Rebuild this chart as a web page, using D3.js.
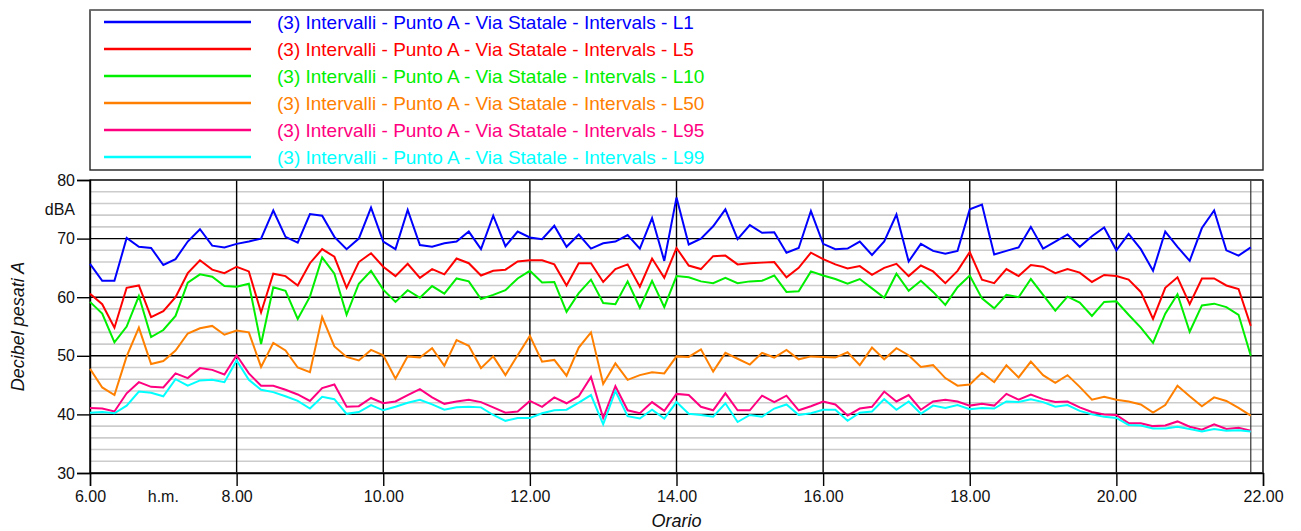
<!DOCTYPE html>
<html>
<head>
<meta charset="utf-8">
<script src="https://cdn.jsdelivr.net/npm/d3@7"></script>
<style>
  html, body { margin: 0; padding: 0; background: #fff; }
  svg { display: block; font-family: "Liberation Sans", Arial, sans-serif; }
</style>
</head>
<body>
<svg id="chart" width="1301" height="531"></svg>
<script>
// ---- Data ----
const seriesNames = [
  "(3) Intervalli - Punto A - Via Statale - Intervals - L1",
  "(3) Intervalli - Punto A - Via Statale - Intervals - L5",
  "(3) Intervalli - Punto A - Via Statale - Intervals - L10",
  "(3) Intervalli - Punto A - Via Statale - Intervals - L50",
  "(3) Intervalli - Punto A - Via Statale - Intervals - L95",
  "(3) Intervalli - Punto A - Via Statale - Intervals - L99"
];
const seriesColors = ["#0000ff", "#ff0000", "#00ee00", "#ff8000", "#ff0080", "#00ffff"];

// 10-minute intervals starting at 6.00
const intervalMinutes = 10;

const L1 = [65.7, 62.8, 62.8, 70.1, 68.6, 68.4, 65.5, 66.5, 69.5, 71.6, 68.8, 68.5, 69.1, 69.5, 70.0, 74.8, 70.3, 69.3, 74.2, 73.9, 70.3, 68.2, 70.0, 75.3, 69.5, 68.2,
  74.9, 68.9, 68.6, 69.2, 69.5, 71.2, 68.2, 73.9, 68.7, 71.2, 70.2, 69.9, 72.2, 68.6, 70.7, 68.3, 69.2, 69.5,
  70.6, 68.3, 73.5, 66.2, 77.0, 69.0, 70.0, 72.1, 75.0, 69.9, 72.3, 71.0, 71.1, 67.6, 68.4, 74.7, 69.1, 68.2,
  68.3, 69.5, 67.2, 69.5, 74.1, 66.1, 69.1, 67.9, 67.4, 67.9, 75.0, 75.8, 67.3, 67.9, 68.5, 72.0, 68.3, 69.5, 70.7,
  68.6, 70.4, 71.9, 68.0, 70.8, 68.2, 64.5, 71.2, 68.6, 66.2, 71.8, 74.8, 68.0, 67.1, 68.5];

const L5 = [60.6, 58.8, 54.8, 61.6, 62.0, 56.6, 57.6, 60.0, 64.1, 66.3, 64.7, 64.1, 65.2, 64.4, 57.4, 64.0, 63.6, 62.0, 65.8, 68.2, 66.9, 61.6, 66.0, 67.5, 65.2, 63.6,
  65.7, 63.3, 64.8, 63.9, 66.6, 65.8, 63.7, 64.5, 64.7, 66.1, 66.3, 66.3, 65.6, 62.0, 65.8, 65.8, 62.6, 64.8,
  65.6, 61.8, 66.6, 63.3, 68.4, 65.4, 64.8, 67.0, 67.1, 65.6, 65.8, 65.9, 66.0, 63.4, 65.0, 67.6, 66.5, 65.6,
  64.9, 65.3, 63.8, 65.0, 65.7, 63.6, 65.4, 64.4, 62.4, 64.5, 67.7, 63.0, 62.4, 64.8, 63.6, 65.5, 65.2, 64.1, 64.8,
  64.2, 62.6, 63.8, 63.6, 63.0, 60.9, 56.3, 61.6, 63.4, 58.8, 63.2, 63.2, 62.0, 61.4, 55.1];

const L10 = [59.2, 57.2, 52.3, 55.0, 60.2, 53.2, 54.4, 56.8, 62.5, 63.9, 63.5, 61.9, 61.8, 62.3, 52.0, 61.7, 61.1, 56.3, 60.1, 66.8, 64.0, 57.0, 62.3, 64.5, 61.3, 59.2,
  61.2, 59.9, 61.9, 60.6, 63.2, 62.7, 59.7, 60.4, 61.2, 63.2, 64.5, 62.5, 62.6, 57.5, 60.7, 63.0, 59.0, 58.8,
  62.7, 58.2, 62.8, 58.3, 63.6, 63.4, 62.7, 62.4, 63.3, 62.4, 62.7, 62.8, 63.7, 60.9, 61.0, 64.4, 63.7, 63.1,
  62.3, 63.1, 61.5, 59.9, 64.0, 61.1, 62.8, 60.9, 58.7, 61.7, 63.7, 59.8, 58.1, 60.4, 60.0, 63.1, 60.4, 57.7, 60.1,
  59.1, 56.8, 59.2, 59.3, 57.0, 54.8, 52.2, 57.2, 60.5, 54.1, 58.6, 58.9, 58.3, 57.0, 50.0];

const L50 = [47.8, 44.6, 43.3, 49.9, 54.8, 48.6, 49.1, 50.9, 53.8, 54.7, 55.1, 53.6, 54.3, 54.0, 48.1, 52.2, 50.9, 48.0, 47.2, 56.6, 51.6, 49.8, 49.2, 51.0, 50.1, 46.1,
  49.9, 49.7, 51.3, 48.3, 52.7, 51.7, 47.9, 49.9, 46.7, 50.1, 53.4, 49.0, 49.3, 46.6, 51.4, 54.0, 45.2, 48.7,
  45.9, 46.7, 47.2, 47.0, 49.9, 49.8, 51.1, 47.3, 50.5, 49.5, 48.5, 50.5, 49.7, 51.0, 49.4, 49.9, 49.8, 49.7,
  50.6, 48.4, 51.4, 49.4, 51.3, 50.1, 48.1, 48.4, 46.2, 44.9, 45.1, 47.1, 45.5, 48.4, 46.3, 49.0, 46.7, 45.4, 46.7,
  44.7, 42.5, 43.0, 42.5, 42.2, 41.7, 40.3, 41.6, 44.9, 43.1, 41.4, 42.9, 42.3, 41.1, 39.8];

const L95 = [41.1, 41.0, 40.5, 43.6, 45.5, 44.7, 44.6, 47.0, 46.2, 47.9, 47.6, 46.8, 50.1, 47.0, 44.9, 44.9, 44.2, 43.4, 42.3, 44.5, 45.1, 41.3, 41.4, 42.8, 41.9, 42.2,
  43.3, 44.3, 42.9, 41.8, 42.2, 42.5, 42.1, 41.2, 40.3, 40.5, 42.3, 41.3, 42.9, 41.9, 43.1, 46.4, 39.4, 44.8,
  40.7, 40.2, 42.1, 40.6, 43.5, 43.3, 41.3, 40.7, 43.6, 40.7, 40.7, 43.2, 42.1, 43.2, 40.7, 41.4, 42.2, 41.7,
  39.8, 41.0, 41.3, 43.9, 42.2, 43.3, 40.8, 42.2, 42.5, 42.2, 41.5, 41.8, 41.5, 43.5, 42.5, 43.4, 42.6, 42.1, 42.2,
  41.2, 40.4, 40.0, 39.9, 38.5, 38.5, 38.0, 38.1, 38.8, 37.9, 37.4, 38.3, 37.5, 37.7, 37.2];

const L99 = [40.3, 40.4, 40.2, 41.5, 43.9, 43.7, 43.1, 46.0, 44.9, 45.8, 45.9, 45.5, 49.2, 45.9, 44.2, 43.8, 43.1, 42.3, 41.0, 43.0, 42.6, 40.1, 40.4, 41.6, 40.7, 41.3,
  42.0, 42.5, 41.7, 40.8, 41.2, 41.3, 41.2, 39.9, 38.9, 39.4, 39.4, 40.2, 40.7, 40.8, 42.0, 43.3, 38.3, 44.0,
  39.7, 39.3, 40.8, 39.3, 42.1, 40.1, 39.9, 39.6, 41.9, 38.7, 39.9, 39.6, 41.0, 41.7, 39.9, 40.2, 40.8, 40.8,
  38.9, 40.3, 40.5, 42.6, 40.8, 42.2, 40.1, 41.5, 41.1, 41.6, 40.9, 41.1, 41.0, 42.2, 42.1, 42.6, 42.1, 41.3, 41.6,
  40.6, 40.0, 39.6, 39.4, 38.2, 38.1, 37.6, 37.6, 37.9, 37.5, 37.1, 37.5, 37.2, 37.3, 37.1];

const xTickLabels = ["6.00", "8.00", "10.00", "12.00", "14.00", "16.00", "18.00", "20.00", "22.00"];
const yTicks = [30, 40, 50, 60, 70, 80];

// ---- Layout ----
const svg = d3.select("#chart");
const pL = 90, pR = 1263, pT = 180, pB = 473;

const x = d3.scaleLinear().domain([6, 22]).range([pL, pR]);
const y = d3.scaleLinear().domain([30, 80]).range([pB, pT]);

const allSeries = [L1, L5, L10, L50, L95, L99];

// minor grid (every 2 dB)
const minor = d3.range(32, 80, 2).filter(v => v % 10 !== 0);
svg.append("g").selectAll("line").data(minor).join("line")
  .attr("x1", pL).attr("x2", pR)
  .attr("y1", d => y(d)).attr("y2", d => y(d))
  .attr("stroke", "#cccccc").attr("stroke-width", 1.6);

// major horizontal grid
svg.append("g").selectAll("line").data(yTicks).join("line")
  .attr("x1", pL).attr("x2", pR)
  .attr("y1", d => y(d)).attr("y2", d => y(d))
  .attr("stroke", "#000").attr("stroke-width", 1.4);

// major vertical grid
const xHours = xTickLabels.map(s => +s.split(".")[0]);
svg.append("g").selectAll("line").data(xHours).join("line")
  .attr("x1", d => x(d)).attr("x2", d => x(d))
  .attr("y1", pT).attr("y2", pB)
  .attr("stroke", "#000").attr("stroke-width", 1.4);

// last data point marker line
const lastHour = 6 + (L1.length - 1) * intervalMinutes / 60;
svg.append("line")
  .attr("x1", x(lastHour)).attr("x2", x(lastHour))
  .attr("y1", pT).attr("y2", pB)
  .attr("stroke", "#333").attr("stroke-width", 1.2);

// plot frame
svg.append("rect").attr("x", pL).attr("y", pT)
  .attr("width", pR - pL).attr("height", pB - pT)
  .attr("fill", "none").attr("stroke", "#444").attr("stroke-width", 1.4);

// axes
const xAxis = d3.axisBottom(x).tickValues(xHours)
  .tickFormat((d, i) => xTickLabels[i]).tickSize(13).tickPadding(5);
const gx = svg.append("g").attr("transform", `translate(0,${pB})`).call(xAxis);
gx.select(".domain").attr("stroke", "#000").attr("stroke-width", 1.4);
gx.selectAll(".tick line").attr("stroke", "#000").attr("stroke-width", 1.4);
gx.selectAll("text").attr("font-size", 16).attr("fill", "#111")
  .attr("font-family", "'Liberation Sans', Arial, sans-serif");

const yAxis = d3.axisLeft(y).tickValues(yTicks).tickSize(13).tickPadding(2);
const gy = svg.append("g").attr("transform", `translate(${pL},0)`).call(yAxis);
gy.select(".domain").attr("stroke", "#000").attr("stroke-width", 1.4);
gy.selectAll(".tick line").attr("stroke", "#000").attr("stroke-width", 1.4);
gy.selectAll("text").attr("font-size", 16).attr("fill", "#111")
  .attr("font-family", "'Liberation Sans', Arial, sans-serif");

// unit labels
svg.append("text").attr("x", 75).attr("y", y(75)).attr("dy", "0.35em")
  .attr("text-anchor", "end").attr("font-size", 16).attr("fill", "#111").text("dBA");
svg.append("text").attr("x", x(7)).attr("y", pB + 18).attr("dy", "0.71em")
  .attr("text-anchor", "middle").attr("font-size", 16).attr("fill", "#111").text("h.m.");

// axis titles
svg.append("text")
  .attr("transform", `translate(24,${(pT + pB) / 2}) rotate(-90)`)
  .attr("text-anchor", "middle").attr("font-size", 18).attr("font-style", "italic")
  .attr("fill", "#111").text("Decibel pesati A");
svg.append("text").attr("x", x(14)).attr("y", 527)
  .attr("text-anchor", "middle").attr("font-size", 18).attr("font-style", "italic")
  .attr("fill", "#111").text("Orario");

// series lines
const line = d3.line()
  .x((d, i) => x(6 + i * intervalMinutes / 60))
  .y(d => y(d));
svg.append("g").selectAll("path").data(allSeries).join("path")
  .attr("d", d => line(d))
  .attr("fill", "none")
  .attr("stroke", (d, i) => seriesColors[i])
  .attr("stroke-width", 2)
  .attr("stroke-linejoin", "miter");

// legend
const legendTop = 10, legendBottom = 170;
svg.append("rect").attr("x", pL).attr("y", legendTop)
  .attr("width", pR - pL).attr("height", legendBottom - legendTop)
  .attr("fill", "#fff").attr("stroke", "#222").attr("stroke-width", 1.4);
svg.append("line").attr("x1", pL).attr("x2", pR).attr("y1", legendTop).attr("y2", legendTop)
  .attr("stroke", "#777").attr("stroke-width", 1.6);
const ly = d3.scalePoint().domain(d3.range(seriesNames.length)).range([22, 157]);
const lg = svg.append("g").selectAll("g").data(seriesNames).join("g")
  .attr("transform", (d, i) => `translate(0,${ly(i)})`);
lg.append("line").attr("x1", 104).attr("x2", 251).attr("y1", 0).attr("y2", 0)
  .attr("stroke", (d, i) => seriesColors[i]).attr("stroke-width", 2.4);
lg.append("text").attr("x", 277).attr("y", 0).attr("dy", "0.35em")
  .attr("font-size", 19).attr("fill", (d, i) => seriesColors[i]).text(d => d);
</script>
</body>
</html>
